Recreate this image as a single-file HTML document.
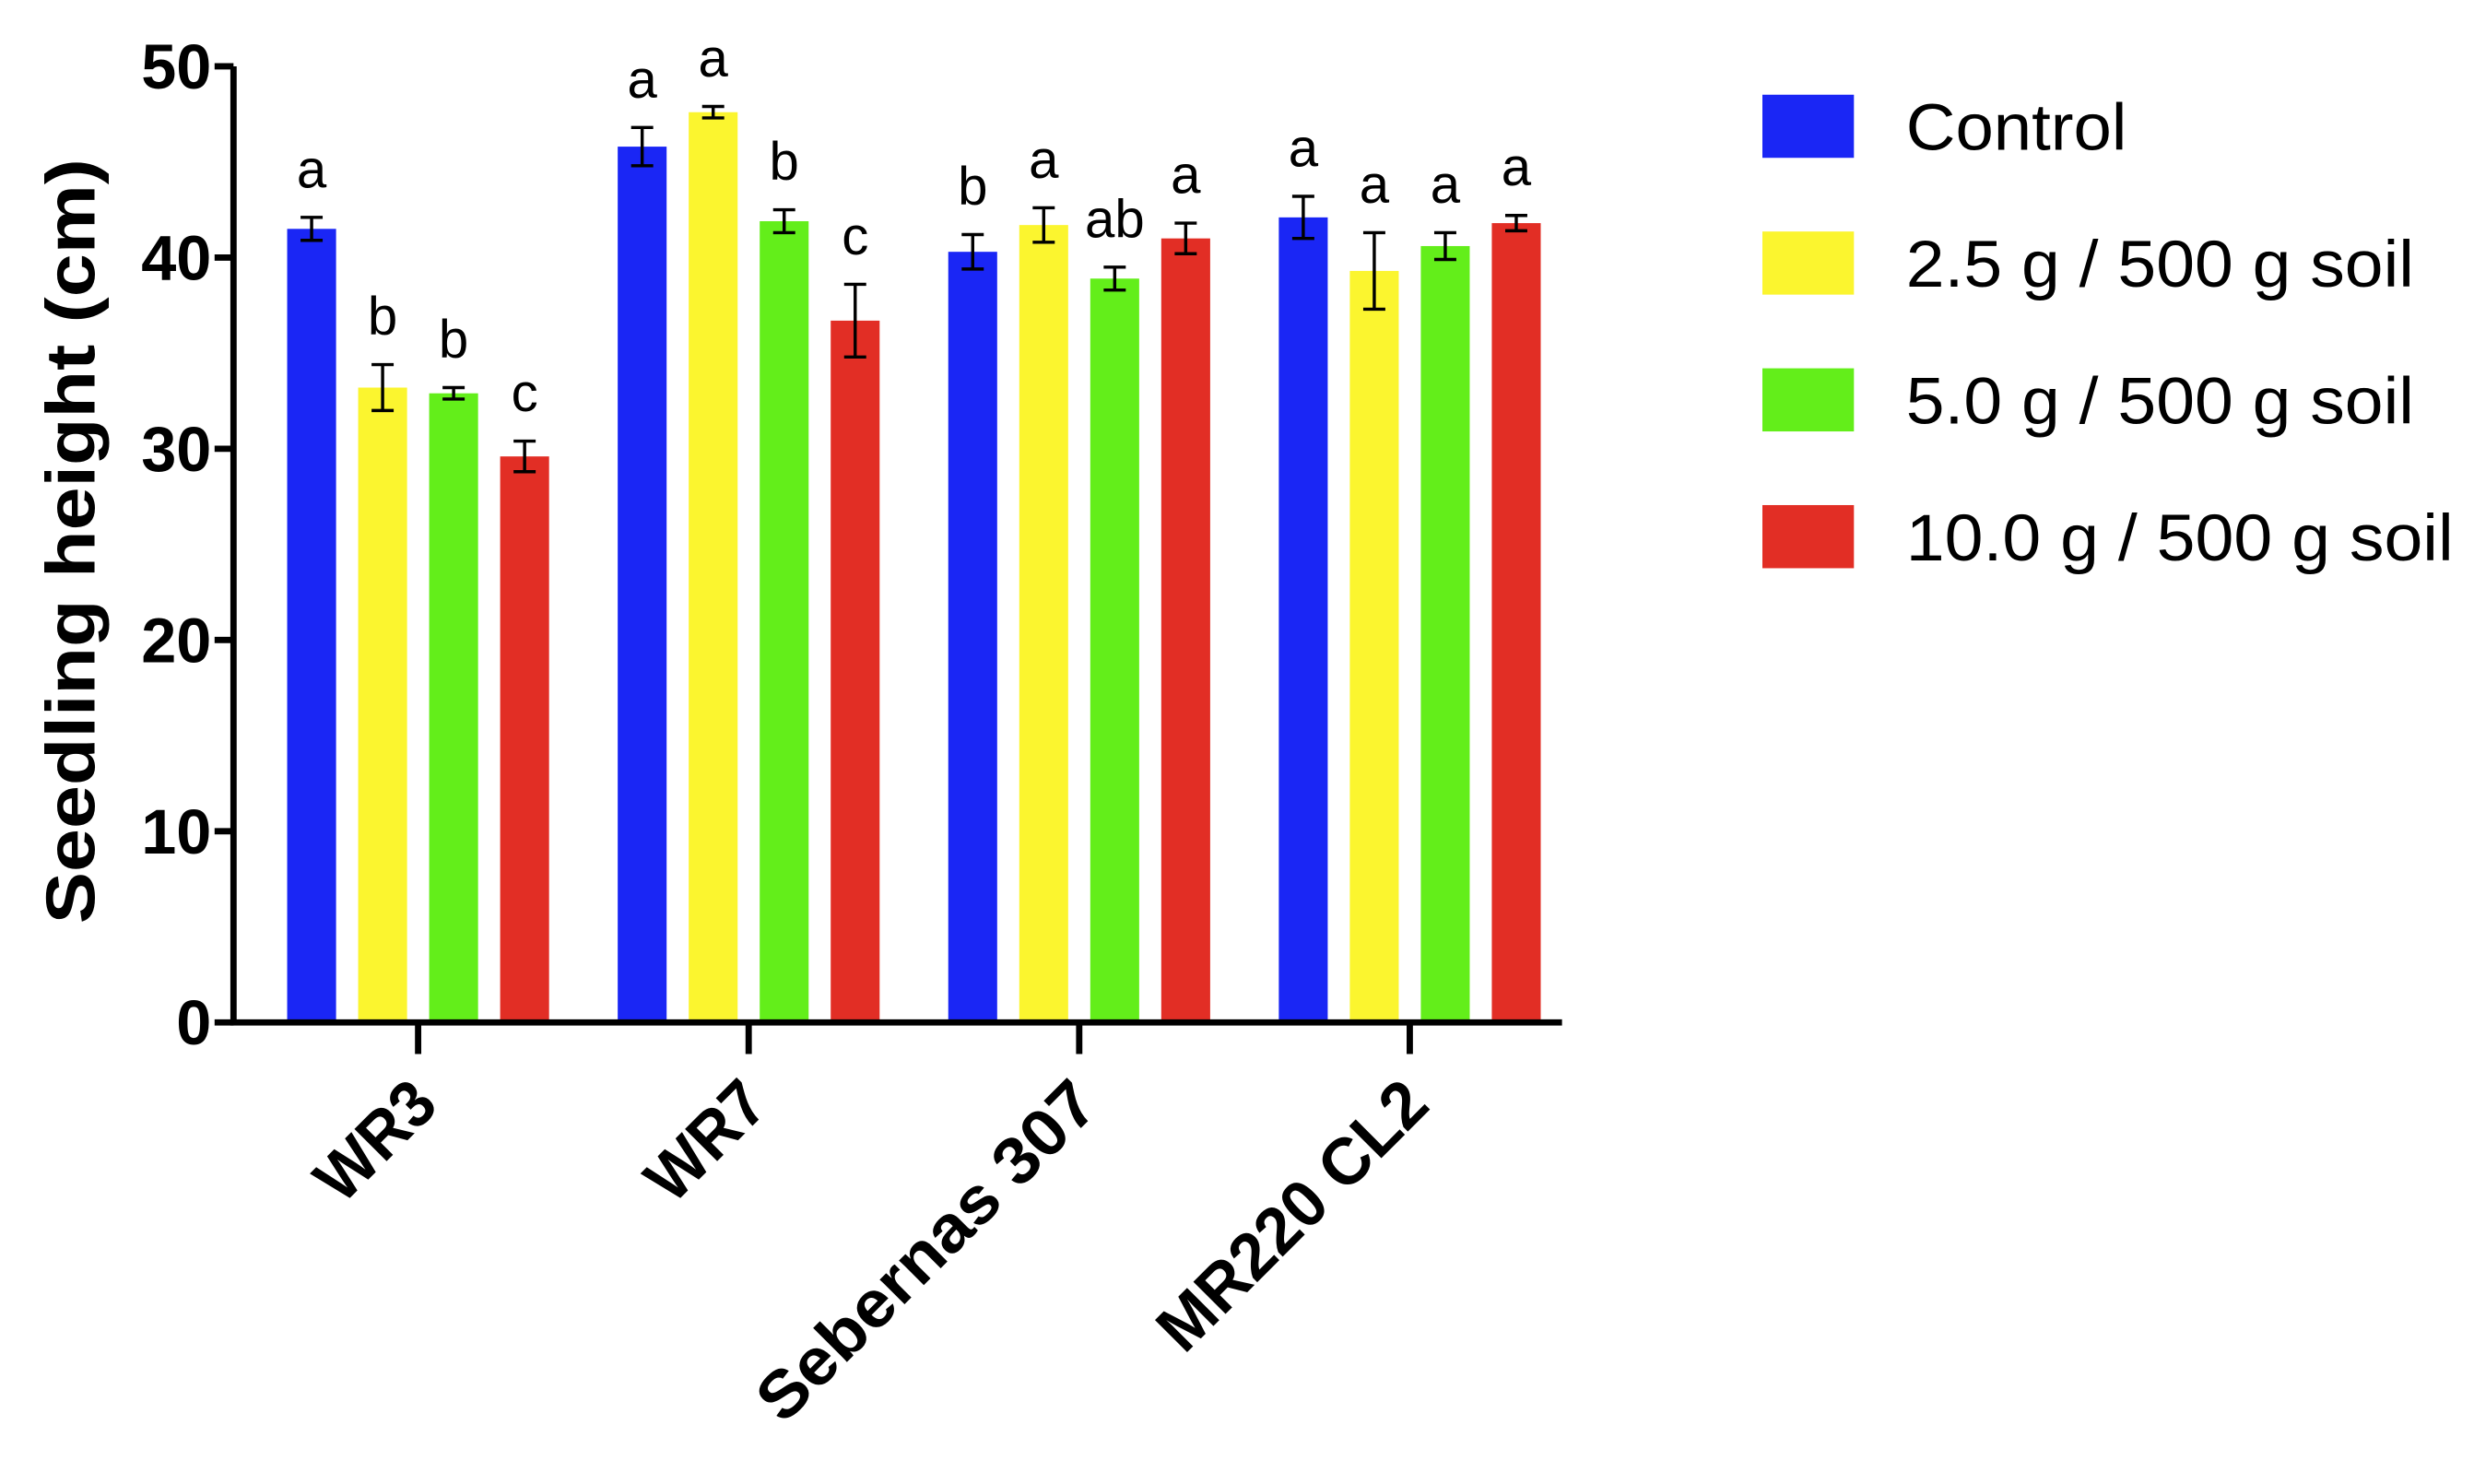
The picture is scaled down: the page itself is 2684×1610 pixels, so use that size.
<!DOCTYPE html>
<html><head><meta charset="utf-8"><style>
html,body{margin:0;padding:0;background:#fff;}
svg{display:block;font-family:"Liberation Sans",Arial,sans-serif;}
</style></head><body>
<svg id="chart" width="2684" height="1610" viewBox="0 0 1568 940.5" xmlns="http://www.w3.org/2000/svg">
<rect width="1568" height="940.5" fill="#fff"/>
<g id="plot"></g>
</svg>
<script>
const categories = ["WR3","WR7","Sebernas 307","MR220 CL2"];
const seriesNames = ["Control","2.5 g / 500 g soil","5.0 g / 500 g soil","10.0 g / 500 g soil"];
const seriesColors = ["#1a26f5","#fbf52f","#63ee1a","#e22e25"];
const controlVals = [41.5,45.8,40.3,42.1];
const dose25Vals = [33.2,47.6,41.7,39.3];
const dose50Vals = [32.9,41.9,38.9,40.6];
const dose100Vals = [29.6,36.7,41.0,41.8];
const controlErr = [0.6,1.0,0.9,1.1];
const dose25Err = [1.2,0.3,0.9,2.0];
const dose50Err = [0.3,0.6,0.6,0.7];
const dose100Err = [0.8,1.9,0.8,0.4];
const controlLetters = ["a","a","b","a"];
const dose25Letters = ["b","a","a","a"];
const dose50Letters = ["b","b","ab","a"];
const dose100Letters = ["c","c","a","a"];
const yTicks = [0,10,20,30,40,50];

const values=[controlVals,dose25Vals,dose50Vals,dose100Vals];
const errs=[controlErr,dose25Err,dose50Err,dose100Err];
const letters=[controlLetters,dose25Letters,dose50Letters,dose100Letters];
const NS="http://www.w3.org/2000/svg";
const g=document.getElementById('plot');
function el(t,a,txt){const e=document.createElementNS(NS,t);for(const k in a)e.setAttribute(k,a[k]);if(txt!==undefined)e.textContent=txt;g.appendChild(e);return e;}
const X0=148,X1=990,Y0=648,Y1=42;
function y(v){return Y0-(v/50)*(Y0-Y1);}
function gx(i){return 265+i*209.5;}
function bx(i,s){return gx(i)+(s-1.5)*45;}
const BW=31;
for(let s=0;s<4;s++){for(let i=0;i<categories.length;i++){
 const v=values[s][i],e=errs[s][i],cx=bx(i,s);
 const r=el('rect',{x:cx-BW/2,y:y(v),width:BW,height:Y0-y(v),fill:seriesColors[s]});
 
 
 const eb=el('path',{d:`M${cx} ${y(v+e)}V${y(v-e)}M${cx-7} ${y(v+e)}H${cx+7}M${cx-7} ${y(v-e)}H${cx+7}`,stroke:'#000','stroke-width':2,fill:'none'});
 
 
 const t=el('text',{x:cx,y:y(v+e)-19,'text-anchor':'middle','font-size':34,fill:'#000'},letters[s][i]);
 
 
}}
const ya=el('path',{d:`M${X0} ${Y1}V${Y0+1.5}`,stroke:'#000','stroke-width':4,fill:'none'});


const xa=el('path',{d:`M${X0-2} ${Y0}H${X1}`,stroke:'#000','stroke-width':4,fill:'none'});


for(const v of yTicks){
 const tk=el('path',{d:`M${X0-12} ${y(v)}H${X0}`,stroke:'#000','stroke-width':4});
 
 
 const tl=el('text',{x:X0-14,y:y(v)+14,'text-anchor':'end','font-size':40,'font-weight':'bold'},String(v));
 
 
}
const xLen=[88,88,285,222];
for(let i=0;i<categories.length;i++){
 const tk=el('path',{d:`M${gx(i)} ${Y0}V${Y0+20}`,stroke:'#000','stroke-width':4});
 
 
 const ax=gx(i)+14, ay=Y0+54;
 const tl=el('text',{x:ax,y:ay,'text-anchor':'end','font-size':42,'font-weight':'bold',textLength:xLen[i],lengthAdjust:'spacingAndGlyphs',transform:`rotate(-45 ${ax} ${ay})`},categories[i]);
 
 
}
const yt=el('text',{x:60,y:343,'text-anchor':'middle','font-size':44,'font-weight':'bold',textLength:485,lengthAdjust:'spacingAndGlyphs',transform:'rotate(-90 60 343)'},'Seedling height (cm)');


for(let s=0;s<4;s++){
 const cy=80+s*86.7;
 const sw=el('rect',{x:1117,y:cy-20,width:58,height:40,fill:seriesColors[s]});
 
 
 const lt=el('text',{x:1208,y:cy+15,'font-size':42,fill:'#000','textLength':s===0?140:(s===3?347:322),lengthAdjust:'spacingAndGlyphs'},seriesNames[s]);
 
 
}
</script>
</body></html>
